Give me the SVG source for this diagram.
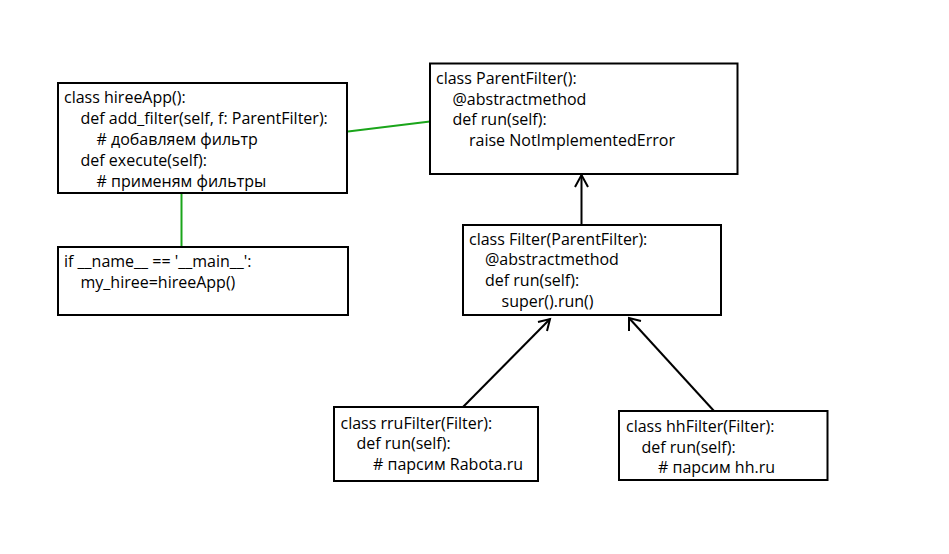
<svg xmlns="http://www.w3.org/2000/svg" width="949" height="554" viewBox="0 0 949 554">
<style>
.box{fill:#fff;stroke:#000;stroke-width:2}
.t{font-family:"Open Sans","DejaVu Sans",sans-serif;font-size:16px;fill:#000}
.g{stroke:#1aa51a;stroke-width:2;fill:none}
.k{stroke:#000;stroke-width:2;fill:none}
</style>
<rect width="949" height="554" fill="#fff"/>
<g id="connectors">
<line class="g" x1="348" y1="131.5" x2="430" y2="121.5"/>
<line class="g" x1="181.5" y1="193" x2="181.5" y2="247"/>
<line class="k" x1="581.5" y1="225" x2="581.5" y2="175"/>
<polyline class="k" points="575,187 581.5,175 588,187"/>
<line class="k" x1="463" y1="407" x2="550" y2="319"/>
<polyline class="k" points="538,322 550,319 547,331"/>
<line class="k" x1="714" y1="411" x2="629" y2="318"/>
<polyline class="k" points="629,331 629,318 641,321"/>
</g>
<g id="hireeApp">
<rect class="box" x="58" y="83" width="289" height="110"/>
<text class="t" x="64" y="103">class hireeApp():</text>
<text class="t" x="80.5" y="124">def add_filter(self, f: ParentFilter):</text>
<text class="t" x="96.5" y="145"># добавляем фильтр</text>
<text class="t" x="80.5" y="166">def execute(self):</text>
<text class="t" x="96.5" y="186.5"># применям фильтры</text>
</g>
<g id="main">
<rect class="box" x="58" y="247" width="290" height="68"/>
<text class="t" x="64" y="266.5">if __name__ == '__main__':</text>
<text class="t" x="80.5" y="288">my_hiree=hireeApp()</text>
</g>
<g id="ParentFilter">
<rect class="box" x="430" y="63.5" width="307.5" height="110.5"/>
<text class="t" x="436" y="83.5">class ParentFilter():</text>
<text class="t" x="452.5" y="104.5">@abstractmethod</text>
<text class="t" x="452.5" y="125">def run(self):</text>
<text class="t" x="469" y="146">raise NotImplementedError</text>
</g>
<g id="Filter">
<rect class="box" x="463" y="225" width="258" height="90"/>
<text class="t" x="469" y="244.5">class Filter(ParentFilter):</text>
<text class="t" x="485" y="265">@abstractmethod</text>
<text class="t" x="485" y="286">def run(self):</text>
<text class="t" x="501.5" y="306.5">super().run()</text>
</g>
<g id="rruFilter">
<rect class="box" x="334" y="407" width="204" height="74"/>
<text class="t" x="340.5" y="428.5">class rruFilter(Filter):</text>
<text class="t" x="356.5" y="449">def run(self):</text>
<text class="t" x="373" y="470"># парсим Rabota.ru</text>
</g>
<g id="hhFilter">
<rect class="box" x="619" y="411" width="208.5" height="69"/>
<text class="t" x="626" y="431.5">class hhFilter(Filter):</text>
<text class="t" x="641.5" y="452.5">def run(self):</text>
<text class="t" x="658" y="473"># парсим hh.ru</text>
</g>
</svg>
